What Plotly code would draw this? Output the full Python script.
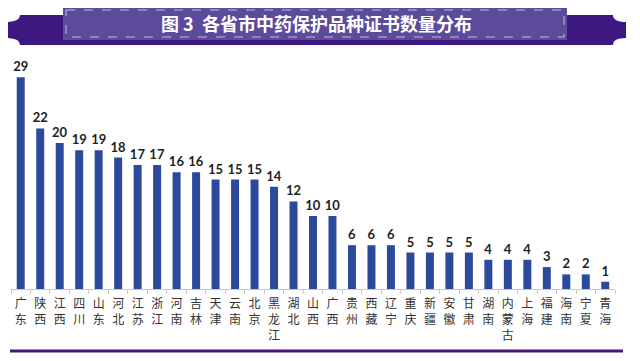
import plotly.graph_objects as go

provinces = ["广东", "陕西", "江西", "四川", "山东", "河北", "江苏", "浙江", "河南", "吉林",
             "天津", "云南", "北京", "黑龙江", "湖北", "山西", "广西", "贵州", "西藏", "辽宁",
             "重庆", "新疆", "安徽", "甘肃", "湖南", "内蒙古", "上海", "福建", "海南", "宁夏", "青海"]
counts = [29, 22, 20, 19, 19, 18, 17, 17, 16, 16,
          15, 15, 15, 14, 12, 10, 10, 6, 6, 6,
          5, 5, 5, 5, 4, 4, 4, 3, 2, 2, 1]
title_text = "图 3  各省市中药保护品种证书数量分布"

# page body adds an 8px margin; the figure is sized/placed to compensate
OFF = 8
W, H = 640 - OFF, 361 - OFF
L, R, T, B = 3, 25, 62, 72
PW, PH = W - L - R, H - T - B

def fx(px):
    return (px - OFF - L) / PW

def fy(py):
    return (H - B - (py - OFF)) / PH

tick_text = ["<br>".join(list(p)) for p in provinces]

fig = go.Figure()
fig.add_trace(go.Bar(
    x=provinces, y=counts,
    marker=dict(color="#2b4a9c", line=dict(width=0)),
    text=[str(c) for c in counts], textposition="outside", textangle=0,
    constraintext="none",
    textfont=dict(family="Lato, Liberation Sans, sans-serif", size=13, color="#222222", weight=700),
    cliponaxis=False, width=0.41,
))

wing = (f"M {fx(20)},{fy(15)} L {fx(613)},{fy(15)} Q {fx(613)},{fy(22)} {fx(626)},{fy(22)} "
        f"L {fx(626)},{fy(38)} Q {fx(613)},{fy(38)} {fx(613)},{fy(45)} "
        f"L {fx(20)},{fy(45)} Q {fx(20)},{fy(38)} {fx(5)},{fy(38)} "
        f"L {fx(5)},{fy(22)} Q {fx(20)},{fy(22)} {fx(20)},{fy(15)} Z")

shapes = [
    dict(type="path", xref="paper", yref="paper", path=wing,
         fillcolor="#3c1880", line=dict(width=0), layer="above"),
    dict(type="rect", xref="paper", yref="paper", x0=fx(63), x1=fx(567), y0=fy(7), y1=fy(40),
         fillcolor="#5c4a9c", line=dict(width=0), layer="above"),
    dict(type="rect", xref="paper", yref="paper", x0=fx(66), x1=fx(564), y0=fy(10), y1=fy(37),
         fillcolor="rgba(0,0,0,0)", line=dict(width=1, color="rgba(230,225,245,0.75)", dash="dash"),
         layer="above"),
    dict(type="line", xref="paper", yref="paper", x0=fx(10), x1=fx(623), y0=fy(351), y1=fy(351),
         line=dict(width=3, color="#4a1675"), layer="above"),
]

fig.update_layout(
    width=W, height=H,
    margin=dict(l=L, r=R, t=T, b=B, autoexpand=False),
    paper_bgcolor="white", plot_bgcolor="white",
    showlegend=False,
    shapes=shapes,
    annotations=[dict(text="<b>" + title_text + "</b>", xref="paper", yref="paper",
                      x=fx(316), y=fy(23), xanchor="center", yanchor="middle", showarrow=False,
                      font=dict(family="Noto Sans CJK SC", size=18, color="white"))],
    xaxis=dict(tickmode="array", tickvals=provinces, ticktext=tick_text, tickangle=0,
               tickfont=dict(family="Noto Sans CJK SC", size=12, color="#333333"),
               ticklabelstandoff=4,
               showline=True, linecolor="#c8c8c8", linewidth=1, automargin=False,
               ticks="outside", tickson="boundaries", ticklen=4, tickcolor="#c8c8c8",
               range=[-0.5, len(provinces) - 0.5], showgrid=False, fixedrange=True),
    yaxis=dict(range=[0, 30], visible=False, showgrid=False, fixedrange=True, automargin=False),
)

fig.write_html("out.html")
